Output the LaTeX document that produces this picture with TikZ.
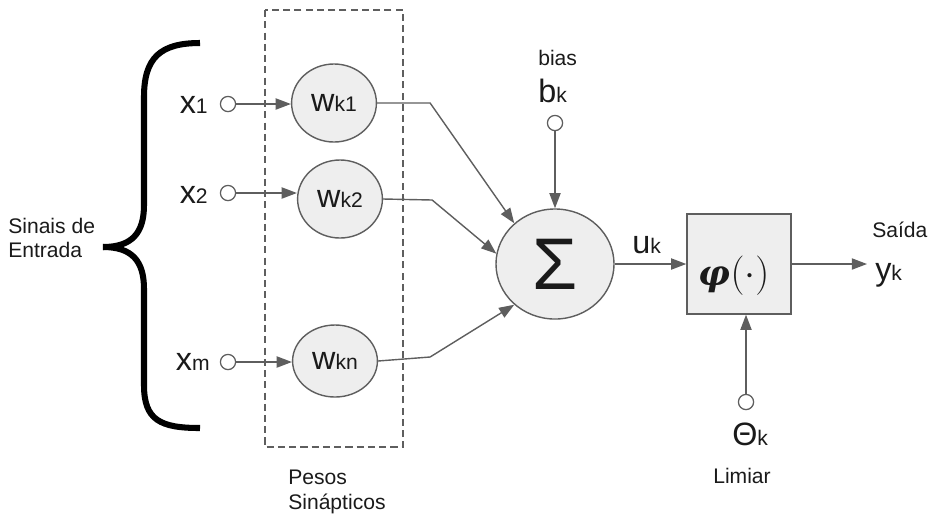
\RequirePackage{fix-cm}
\documentclass[tikz,border=0pt]{standalone}
\usepackage{amsmath}
\usepackage{amssymb}
\usepackage{fontspec}
\setmainfont{Liberation Sans}
\newfontfamily\phifont{DejaVu Serif}
\usepackage{tikz}
\usetikzlibrary{arrows.meta,shapes.geometric}

\definecolor{linegray}{HTML}{5E5E5E}
\definecolor{fillgray}{HTML}{EEEEEE}
\definecolor{inkblack}{HTML}{1A1A1A}

\newcommand{\bigsub}[2]{{\fontsize{23}{23}\selectfont #1}{\fontsize{15}{15}\selectfont #2}}
\newcommand{\smalltxt}{\fontsize{15}{17.5}\selectfont}

\begin{document}
\begin{tikzpicture}[x=0.025cm, y=-0.025cm, text=inkblack,
  inport/.style={circle, draw=linegray, fill=white, line width=0.9pt, minimum size=0.38cm, inner sep=0pt},
  weight/.style={ellipse, draw=linegray, fill=fillgray, line width=1pt, minimum width=2.12cm, minimum height=1.95cm, inner sep=0pt},
  conn/.style={draw=linegray, line width=1pt, -{Triangle[length=0.38cm, width=0.28cm]}}]
\useasboundingbox (0,0) rectangle (938,516);

\draw[line width=4.3pt] (200,43) .. controls (160,43) and (144,58) .. (144,97) -- (144,205) .. controls (144,233) and (132,247) .. (103,247);
\draw[line width=4.3pt] (103,247) .. controls (132,247) and (144,261) .. (144,289) -- (144,385) .. controls (144,420) and (160,428) .. (200,428);
\node[anchor=west, align=left, inner sep=0pt, font=\smalltxt] (sinais) at (8,238) {Sinais de\\Entrada};

\draw[linegray, line width=1.2pt, dash pattern=on 5pt off 3pt] (265,10) rectangle (403,447);
\node[anchor=west, align=left, inner sep=0pt, font=\smalltxt] (pesos) at (288,492) {Pesos\\Sinápticos};

\node[inport] (c1) at (228,104) {};
\node[inport] (c2) at (228,193) {};
\node[inport] (cm) at (228,362) {};
\node[anchor=base east, inner sep=0pt] (x1) at (208,113) {\bigsub{x}{1}};
\node[anchor=base east, inner sep=0pt] (x2) at (208,203) {\bigsub{x}{2}};
\node[anchor=base east, inner sep=0pt] (xm) at (210,370) {\bigsub{x}{m}};

\node[weight] (w1) at (334,103) {\bigsub{w}{k1}};
\node[weight] (w2) at (340,199) {\bigsub{w}{k2}};
\node[weight, minimum height=1.8cm] (wn) at (335,361) {\bigsub{w}{kn}};
\draw[conn] (c1) -- (c1 -| w1.west);
\draw[conn] (c2) -- (c2 -| w2.west);
\draw[conn] (cm) -- (cm -| wn.west);

\node[ellipse, draw=linegray, fill=fillgray, line width=1pt, minimum width=2.95cm, minimum height=2.75cm, inner sep=0pt] (sum) at (555,264) {\fontsize{52}{52}\selectfont Σ};
\draw[conn] (w1.east) -- ++(53,0) -- (sum.135);
\draw[conn] (w2.east) -- ++(49,1) -- (sum.170);
\draw[conn] (wn.east) -- ++(52,-4) -- (sum.225);

\node[anchor=base west, inner sep=0pt] (bias) at (538,65) {\smalltxt bias};
\node[anchor=base west, inner sep=0pt] (bk) at (538,102) {\bigsub{b}{k}};
\node[inport] (cb) at (555,123) {};
\draw[conn] (cb) -- (sum);

\node[draw=linegray, fill=fillgray, line width=1pt, minimum width=2.6cm, minimum height=2.5cm, inner sep=0pt] (phi) at (739,264) {};
\node[anchor=base, inner sep=0pt] (phitxt) at (734,285) {{\phifont\bfseries\itshape\fontsize{25}{25}\selectfont φ}\fontsize{28}{28}\selectfont$(\cdot)$};
\draw[conn] (sum) -- (phi);
\node[anchor=base west, inner sep=0pt] (uk) at (632,253) {\bigsub{u}{k}};

\coordinate (yend) at (867,264);
\draw[conn] (phi) -- (yend);
\node[anchor=base west, inner sep=0pt] (saida) at (872,237) {\smalltxt Saída};
\node[anchor=base west, inner sep=0pt] (yk) at (875,280) {\bigsub{y}{k}};

\node[inport] (ct) at (746,402) {};
\draw[conn] (ct) -- (ct |- phi.south);
\node[anchor=base west, inner sep=0pt] (thk) at (732,445) {\bigsub{Θ}{k}};
\node[anchor=base west, inner sep=0pt] (limiar) at (713,483) {\smalltxt Limiar};
\end{tikzpicture}
\end{document}
